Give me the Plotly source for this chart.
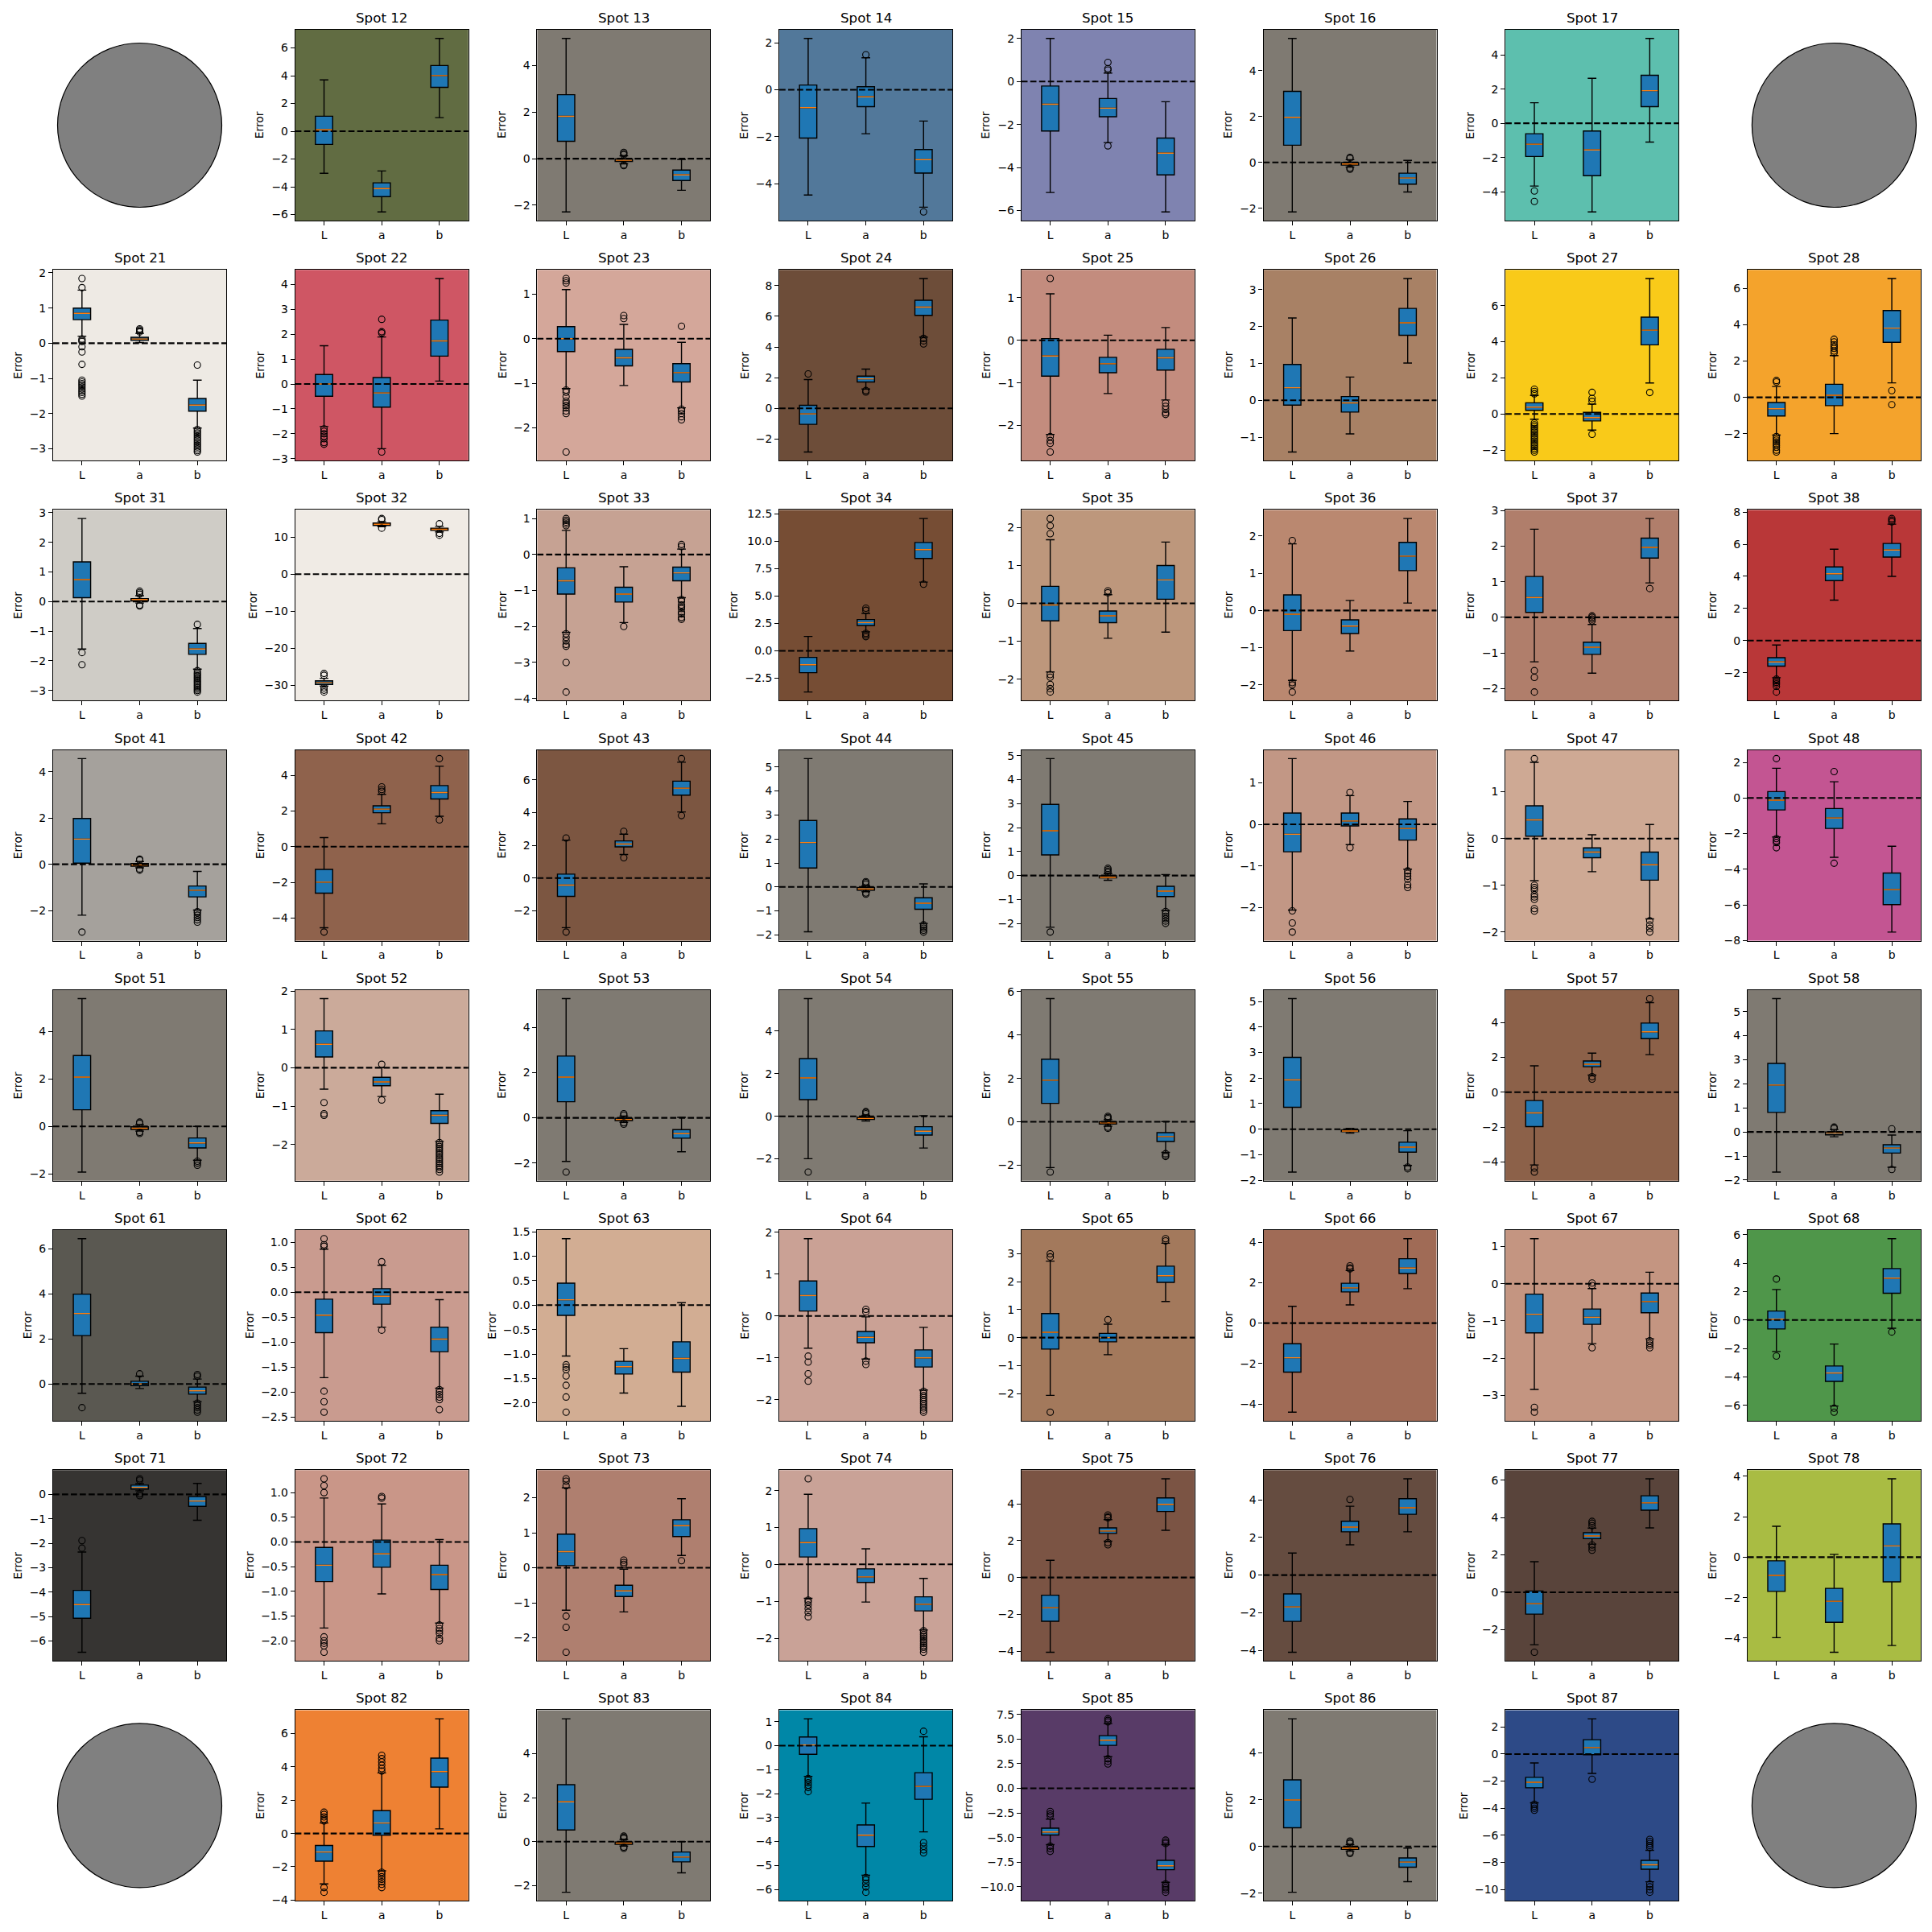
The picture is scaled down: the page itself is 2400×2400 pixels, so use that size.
import math
import plotly.graph_objects as go

# ---------------- data ----------------
CHANNELS = ["L", "a", "b"]
SPOT_IDS = [12, 13, 14, 15, 16, 17,
            21, 22, 23, 24, 25, 26, 27, 28,
            31, 32, 33, 34, 35, 36, 37, 38,
            41, 42, 43, 44, 45, 46, 47, 48,
            51, 52, 53, 54, 55, 56, 57, 58,
            61, 62, 63, 64, 65, 66, 67, 68,
            71, 72, 73, 74, 75, 76, 77, 78,
            82, 83, 84, 85, 86, 87]
EMPTY_CELLS = [11, 18, 81, 88]

BG_COLORS = ["#616C42", "#7F7A72", "#52789A", "#7F83B0", "#7F7A72", "#5DBFAE",
             "#EEEAE4", "#CF5664", "#D4A79A", "#6D4D39", "#C38C7E", "#A88165", "#F9CA19", "#F4A32C",
             "#CFCCC6", "#F0EBE5", "#C6A293", "#764D34", "#BD977C", "#BA8870", "#B07E6B", "#B93738",
             "#A5A19C", "#8F624C", "#7C5641", "#7F7A72", "#7F7A72", "#C29785", "#CEA994", "#C35592",
             "#7F7A72", "#CBAA9A", "#7F7A72", "#7F7A72", "#7F7A72", "#7F7A72", "#8C6149", "#7F7A72",
             "#5A5851", "#C99B8F", "#D2AD93", "#CAA195", "#A3795C", "#A06B56", "#C49581", "#4F964A",
             "#363432", "#C99688", "#AF7F6F", "#C9A297", "#7B5444", "#654C40", "#59443B", "#A9BC43",
             "#EE8133", "#7F7A72", "#0087A7", "#583B67", "#7F7A72", "#2D4A87"]

# [lower whisker, q1, median, q3, upper whisker]
L_BOX = [[-3.03, -0.95, 0.1, 1.08, 3.70], [-2.29, 0.75, 1.82, 2.75, 5.17], [-4.47, -2.05, -0.76, 0.2, 2.18],
         [-5.16, -2.3, -1.06, -0.21, 2.0], [-2.16, 0.75, 1.97, 3.1, 5.41], [-3.67, -1.94, -1.22, -0.61, 1.2],
         [0.2, 0.67, 0.85, 1.0, 1.51], [-1.71, -0.49, 0.0, 0.38, 1.54], [-1.12, -0.29, 0.0, 0.27, 1.1],
         [-2.84, -1.04, -0.36, 0.2, 1.88], [-2.21, -0.84, -0.37, 0.04, 1.09], [-1.4, -0.13, 0.34, 0.97, 2.23],
         [-0.29, 0.2, 0.38, 0.62, 1.03], [-2.07, -1.02, -0.62, -0.28, 0.6],
         [-1.6, 0.13, 0.74, 1.34, 2.8], [-30.2, -29.8, -29.3, -28.8, -28.1], [-2.16, -1.1, -0.73, -0.37, 0.67],
         [-3.75, -1.99, -1.26, -0.59, 1.32], [-1.81, -0.46, -0.04, 0.45, 1.68], [-1.88, -0.54, -0.1, 0.42, 1.79],
         [-1.25, 0.14, 0.56, 1.15, 2.48], [-2.31, -1.59, -1.33, -1.06, -0.27],
         [-2.2, 0.05, 1.09, 1.98, 4.57], [-4.54, -2.6, -1.99, -1.27, 0.51], [-3.03, -1.12, -0.43, 0.24, 2.32],
         [-1.87, 0.79, 1.85, 2.77, 5.35], [-2.16, 0.86, 1.87, 2.97, 4.88], [-2.06, -0.66, -0.24, 0.27, 1.58],
         [-0.9, 0.05, 0.4, 0.7, 1.63], [-2.19, -0.67, -0.12, 0.36, 1.67],
         [-1.93, 0.7, 2.08, 2.99, 5.39], [-0.56, 0.28, 0.61, 0.96, 1.8], [-1.93, 0.71, 1.8, 2.73, 5.27],
         [-1.99, 0.78, 1.8, 2.71, 5.52], [-2.11, 0.85, 1.92, 2.89, 5.68], [-1.68, 0.86, 1.93, 2.81, 5.11],
         [-4.17, -1.97, -1.19, -0.48, 1.51], [-1.67, 0.81, 1.95, 2.85, 5.54],
         [-0.41, 2.15, 3.13, 3.99, 6.45], [-1.71, -0.81, -0.46, -0.14, 0.86], [-1.04, -0.21, 0.11, 0.45, 1.36],
         [-0.77, 0.12, 0.49, 0.84, 1.85], [-2.06, -0.41, 0.19, 0.86, 2.73], [-4.4, -2.42, -1.71, -1.02, 0.83],
         [-2.84, -1.32, -0.82, -0.28, 1.21], [-2.21, -0.63, 0.06, 0.63, 2.14],
         [-6.46, -5.07, -4.51, -3.93, -2.36], [-1.74, -0.8, -0.47, -0.11, 0.89], [-1.21, 0.06, 0.46, 0.96, 2.28],
         [-0.92, 0.2, 0.59, 0.97, 1.9], [-4.06, -2.38, -1.64, -0.96, 0.94], [-4.1, -2.46, -1.69, -1.0, 1.17],
         [-2.81, -1.17, -0.61, 0.07, 1.64], [-3.98, -1.69, -0.9, -0.18, 1.53],
         [-3.03, -1.66, -1.11, -0.72, 0.63], [-2.3, 0.53, 1.81, 2.59, 5.58], [-1.28, -0.36, 0.03, 0.36, 1.12],
         [-5.72, -4.74, -4.43, -4.04, -3.12], [-1.96, 0.8, 1.99, 2.85, 5.46], [-3.6, -2.49, -2.08, -1.72, -0.66]]

A_BOX = [[-5.81, -4.71, -4.13, -3.72, -2.86], [-0.22, -0.12, -0.07, -0.01, 0.12], [-1.87, -0.72, -0.3, 0.13, 1.36],
         [-2.84, -1.64, -1.24, -0.79, 0.39], [-0.2, -0.12, -0.07, -0.01, 0.12], [-5.18, -3.06, -1.56, -0.45, 2.63],
         [0.02, 0.08, 0.12, 0.17, 0.28], [-2.6, -0.93, -0.36, 0.26, 1.89], [-1.05, -0.61, -0.43, -0.24, 0.32],
         [1.26, 1.72, 1.92, 2.1, 2.56], [-1.25, -0.76, -0.55, -0.4, 0.12], [-0.91, -0.32, -0.07, 0.1, 0.63],
         [-0.89, -0.38, -0.2, 0.09, 0.55], [-1.99, -0.45, 0.12, 0.72, 2.3],
         [-0.05, 0.02, 0.07, 0.1, 0.2], [12.8, 13.15, 13.47, 13.8, 14.2], [-1.89, -1.32, -1.1, -0.91, -0.34],
         [1.74, 2.32, 2.58, 2.86, 3.42], [-0.92, -0.51, -0.33, -0.2, 0.23], [-1.09, -0.62, -0.42, -0.25, 0.27],
         [-1.57, -1.04, -0.84, -0.7, -0.2], [2.52, 3.74, 4.16, 4.59, 5.69],
         [-0.15, -0.08, -0.03, 0.03, 0.12], [1.28, 1.9, 2.1, 2.29, 2.93], [1.44, 1.91, 2.08, 2.27, 2.68],
         [-0.2, -0.13, -0.08, -0.02, 0.05], [-0.2, -0.1, -0.07, -0.01, 0.08], [-0.49, -0.04, 0.08, 0.27, 0.69],
         [-0.71, -0.41, -0.29, -0.2, 0.08], [-3.33, -1.71, -1.12, -0.59, 0.91],
         [-0.2, -0.13, -0.08, -0.02, 0.08], [-0.75, -0.47, -0.37, -0.25, 0.0], [-0.2, -0.12, -0.07, -0.02, 0.08],
         [-0.22, -0.15, -0.1, -0.05, 0.05], [-0.2, -0.1, -0.05, 0.0, 0.1], [-0.15, -0.1, -0.07, -0.03, 0.03],
         [0.98, 1.46, 1.6, 1.79, 2.24], [-0.2, -0.12, -0.05, 0.0, 0.1],
         [-0.2, -0.07, 0.0, 0.12, 0.35], [-0.7, -0.24, -0.08, 0.07, 0.54], [-1.8, -1.41, -1.26, -1.15, -0.89],
         [-1.03, -0.64, -0.51, -0.37, -0.02], [-0.61, -0.15, 0.0, 0.15, 0.48], [0.9, 1.54, 1.74, 1.97, 2.6],
         [-1.61, -1.09, -0.9, -0.68, -0.13], [-6.04, -4.31, -3.72, -3.23, -1.69],
         [0.15, 0.22, 0.29, 0.38, 0.44], [-1.05, -0.51, -0.24, 0.04, 0.77], [-1.26, -0.82, -0.66, -0.5, -0.04],
         [-1.02, -0.49, -0.34, -0.12, 0.42], [1.98, 2.4, 2.53, 2.7, 3.15], [1.61, 2.3, 2.55, 2.86, 3.66],
         [2.58, 2.87, 3.02, 3.19, 3.44], [-4.7, -3.22, -2.18, -1.54, 0.14],
         [-2.24, -0.11, 0.63, 1.37, 3.64], [-0.2, -0.12, -0.07, -0.02, 0.1], [-5.41, -4.21, -3.74, -3.31, -2.4],
         [3.21, 4.37, 4.89, 5.35, 6.57], [-0.2, -0.12, -0.08, -0.03, 0.08], [-1.43, -0.05, 0.48, 1.06, 2.6]]

B_BOX = [[0.98, 3.16, 4.01, 4.73, 6.68], [-1.36, -0.94, -0.70, -0.49, -0.03], [-4.99, -3.54, -2.97, -2.54, -1.33],
         [-6.06, -4.34, -3.33, -2.63, -0.94], [-1.29, -0.95, -0.68, -0.47, 0.09], [-1.1, 0.97, 1.91, 2.81, 4.96],
         [-2.41, -1.93, -1.76, -1.57, -1.05], [0.12, 1.12, 1.73, 2.57, 4.24], [-1.55, -0.97, -0.76, -0.56, -0.08],
         [4.64, 6.06, 6.6, 7.04, 8.46], [-1.4, -0.7, -0.41, -0.21, 0.3], [1.01, 1.76, 2.1, 2.49, 3.3],
         [1.72, 3.83, 4.64, 5.36, 7.5], [0.8, 3.03, 3.81, 4.78, 6.54],
         [-2.28, -1.78, -1.6, -1.41, -0.91], [11.4, 11.8, 12.1, 12.4, 12.9], [-1.2, -0.73, -0.51, -0.35, 0.15],
         [6.27, 8.43, 9.24, 9.89, 12.07], [-0.76, 0.11, 0.62, 1.0, 1.62], [0.2, 1.07, 1.46, 1.83, 2.47],
         [0.97, 1.67, 1.97, 2.23, 2.78], [4.0, 5.2, 5.64, 6.05, 7.25],
         [-1.98, -1.41, -1.12, -0.94, -0.31], [1.7, 2.67, 3.03, 3.42, 4.5], [4.04, 5.07, 5.49, 5.92, 7.08],
         [-1.52, -0.93, -0.68, -0.45, 0.13], [-1.46, -0.88, -0.65, -0.45, 0.04], [-1.08, -0.38, -0.1, 0.13, 0.55],
         [-1.72, -0.89, -0.56, -0.29, 0.3], [-7.52, -5.98, -5.14, -4.21, -2.71],
         [-1.43, -0.91, -0.7, -0.49, 0.0], [-1.92, -1.45, -1.24, -1.12, -0.69], [-1.5, -0.9, -0.7, -0.52, 0.02],
         [-1.49, -0.88, -0.7, -0.49, 0.03], [-1.41, -0.91, -0.68, -0.5, 0.01], [-1.42, -0.9, -0.7, -0.51, -0.06],
         [2.15, 3.07, 3.46, 3.96, 5.13], [-1.47, -0.88, -0.67, -0.53, -0.13],
         [-0.78, -0.45, -0.3, -0.14, 0.22], [-1.92, -1.19, -0.94, -0.7, -0.15], [-2.07, -1.37, -1.09, -0.75, 0.05],
         [-1.77, -1.22, -1.0, -0.81, -0.27], [1.29, 1.97, 2.21, 2.55, 3.37], [1.7, 2.45, 2.72, 3.18, 4.17],
         [-1.48, -0.78, -0.48, -0.25, 0.31], [-0.58, 1.88, 2.94, 3.61, 5.71],
         [-1.06, -0.49, -0.27, -0.09, 0.45], [-1.64, -0.96, -0.66, -0.47, 0.05], [0.35, 0.89, 1.2, 1.37, 1.97],
         [-1.78, -1.26, -1.08, -0.88, -0.38], [2.57, 3.59, 3.98, 4.33, 5.37], [2.3, 3.23, 3.58, 4.06, 5.12],
         [3.45, 4.4, 4.79, 5.17, 6.08], [-4.37, -1.22, 0.56, 1.65, 3.88],
         [0.28, 2.79, 3.72, 4.53, 6.89], [-1.42, -0.92, -0.7, -0.47, 0.0], [-3.6, -2.24, -1.7, -1.13, 0.37],
         [-9.54, -8.26, -7.86, -7.31, -5.72], [-1.51, -0.89, -0.67, -0.49, -0.07], [-9.43, -8.5, -8.17, -7.85, -7.1]]

L_OUT = [[], [], [], [], [], [-3.96, -4.57],
         [1.84, 1.58, 0.12, 0.08, 0.05, -0.1, -0.25, -0.6, -1.05, -1.1, -1.15, -1.2, -1.25, -1.3, -1.35, -1.4, -1.45, -1.5],
         [-1.8, -1.9, -2.0, -2.1, -2.2, -2.35, -2.42],
         [1.35, 1.3, 1.25, -1.15, -1.2, -1.3, -1.4, -1.45, -1.5, -1.55, -1.62, -1.68, -2.54],
         [2.24], [1.45, -2.26, -2.35, -2.42, -2.62], [],
         [1.37, 1.25, 1.12, -0.5, -0.6, -0.7, -0.8, -0.9, -1.0, -1.1, -1.2, -1.3, -1.4, -1.5, -1.6, -1.7, -1.8, -1.9, -2.0, -2.1],
         [0.93, 0.85, -2.15, -2.25, -2.35, -2.45, -2.55, -2.65, -2.75, -2.9, -3.0],
         [-1.72, -2.13], [-26.8, -27.3, -30.7, -31.3, -31.8],
         [1.0, 0.95, 0.9, 0.85, 0.8, -2.2, -2.3, -2.4, -2.5, -2.55, -3.0, -3.82],
         [], [2.24, 2.05, 1.84, -1.88, -1.95, -2.14, -2.25, -2.34], [1.88, -1.94, -2.0, -2.19],
         [-1.5, -1.69, -2.1], [-2.4, -2.5, -2.6, -2.7, -2.85, -3.2],
         [-2.93], [-4.78], [2.45, -3.3], [], [-2.36], [-2.08, -2.37, -2.59],
         [1.71, -1.0, -1.05, -1.1, -1.2, -1.25, -1.3, -1.5, -1.55], [2.21, -2.28, -2.4, -2.5, -2.79],
         [], [-0.91, -1.2, -1.24], [-2.4], [-2.62], [-2.32], [], [-4.35, -4.58], [],
         [-1.05], [1.07, 0.95, 0.92, -1.98, -2.19, -2.4], [-1.22, -1.27, -1.32, -1.45, -1.64, -1.88, -2.19],
         [-0.96, -1.1, -1.38, -1.56], [2.99, 2.88, -2.66], [], [-3.32, -3.45], [2.88, -2.53],
         [-1.89, -2.2], [1.28, 1.14, 1.0, -1.92, -2.0, -2.05, -2.1, -2.23], [2.54, 2.47, 2.34, -1.38, -1.7, -2.41],
         [2.32, -0.97, -1.02, -1.1, -1.2, -1.3, -1.42], [], [], [-3.21], [],
         [1.28, 1.15, 1.0, 0.85, 0.75, -3.25, -3.53], [], [-1.37, -1.45, -1.55, -1.65, -1.75, -1.92],
         [-2.35, -2.6, -2.8, -5.87, -6.1, -6.4], [], [-3.7, -3.85, -4.0, -4.15]]

A_OUT = [[], [0.17, 0.22, 0.27, -0.27, -0.3], [1.49], [0.89, 0.6, 0.53, -2.99], [0.18, 0.22, -0.25, -0.3], [],
         [0.32, 0.35, 0.38, 0.41], [2.6, 2.1, 2.05, -2.73], [0.52, 0.45], [1.16, 1.06], [], [],
         [1.2, 0.86, 0.7, -1.12], [3.2, 3.05, 2.9, 2.8, 2.7, 2.55, 2.45],
         [0.25, 0.3, 0.35, -0.12, -0.15], [14.7, 15.0, 12.4], [-2.0], [3.9, 3.7, 1.6, 1.45, 1.3], [0.33, 0.28], [],
         [0.04, 0.0, -0.05, -0.1], [],
         [0.18, 0.22, -0.2, -0.25], [3.35, 3.2, 3.1], [2.85, 1.24], [0.12, 0.18, 0.22, -0.25, -0.3],
         [0.13, 0.18, 0.24, 0.3], [0.77, -0.56], [], [1.48, -3.66],
         [0.13, 0.18, -0.25, -0.3], [0.09, -0.84], [0.12, 0.18, -0.22, -0.28], [0.12, 0.18, 0.22],
         [0.15, 0.2, 0.25, -0.25, -0.3], [], [0.89, 0.75], [0.15, 0.2],
         [0.45], [0.61, -0.76], [], [0.16, 0.1, -1.08, -1.16], [0.64], [2.83, 2.73, 2.68], [0.02, -0.05, -1.72],
         [-6.19, -6.47],
         [0.64, 0.58, 0.02, -0.05], [0.92, 0.89], [0.22, 0.15, 0.1], [], [3.4, 3.3, 3.25, 1.9, 1.78], [4.02],
         [3.8, 3.7, 3.57, 2.53, 2.4, 2.25], [],
         [4.7, 4.5, 4.3, 4.1, 3.9, 3.75, -2.33, -2.45, -2.6, -2.75, -2.9, -3.05, -3.25],
         [0.15, 0.2, 0.25, -0.25, -0.3], [-5.5, -5.6, -5.75, -5.9, -6.12], [7.06, 6.9, 6.75, 3.0, 2.75, 2.48],
         [0.13, 0.18, 0.23, -0.25, -0.3], [-1.86]]

B_OUT = [[], [], [-5.19], [], [], [],
         [-0.62, -2.45, -2.5, -2.55, -2.6, -2.65, -2.7, -2.75, -2.8, -2.85, -2.9, -2.95, -3.0, -3.05, -3.09],
         [], [0.28, -1.58, -1.62, -1.68, -1.75, -1.82], [4.56, 4.4, 4.2], [-1.47, -1.55, -1.62, -1.7, -1.74], [],
         [1.19], [0.37, -0.4],
         [-0.77, -2.33, -2.4, -2.45, -2.5, -2.55, -2.6, -2.65, -2.7, -2.75, -2.8, -2.85, -2.9, -2.95, -3.0, -3.05],
         [13.6, 11.0, 10.5], [0.28, 0.22, -1.25, -1.3, -1.4, -1.45, -1.5, -1.6, -1.65, -1.75, -1.8], [6.08], [], [],
         [0.81], [7.6, 7.5, 7.4],
         [-2.05, -2.1, -2.2, -2.3, -2.4, -2.5], [4.93, 1.5], [7.3, 3.82], [-1.58, -1.65, -1.72, -1.8, -1.88],
         [-1.5, -1.6, -1.7, -1.8, -1.9, -2.0], [-1.12, -1.18, -1.25, -1.32, -1.45, -1.52], [-1.76, -1.85, -1.92, -2.0], [],
         [-1.47, -1.55, -1.64],
         [-1.95, -2.0, -2.05, -2.1, -2.15, -2.2, -2.25, -2.3, -2.35, -2.4, -2.45, -2.5, -2.55, -2.6, -2.65, -2.72],
         [], [], [-1.47, -1.55, -1.6], [-1.48, -1.55], [5.36], [0.13, -1.56],
         [0.35, 0.42, -0.85, -0.95, -1.05, -1.15, -1.25], [-1.95, -2.0, -2.05, -2.1, -2.15, -2.35], [],
         [-1.8, -1.85, -1.9, -1.95, -2.0, -2.05, -2.1, -2.15, -2.2, -2.25, -2.3], [3.53, 3.45], [],
         [-1.53, -1.6, -1.65, -1.72], [-0.84],
         [], [-1.68, -1.75, -1.8, -1.85, -1.95, -2.0], [0.2],
         [-1.8, -1.85, -1.9, -1.95, -2.0, -2.05, -2.1, -2.15, -2.2, -2.25, -2.3, -2.38], [], [], [], [],
         [], [], [0.6, -4.05, -4.2, -4.35, -4.48], [-5.26, -5.45, -5.6, -9.7, -9.9, -10.1, -10.3, -10.55], [],
         [-6.3, -6.45, -6.6, -6.75, -6.9, -9.6, -9.8, -10.0, -10.2]]

# ---------------- layout constants ----------------
FIG = 2400
COL_LEFT0, COL_PITCH = 66.0, 300.7
ROW_TOP0, ROW_PITCH = 37.0, 298.2
AX_W, AX_H = 215.0, 237.0
BOX_W = 0.3
FONT = "DejaVu Sans"
TICK_PX = 13.9
TITLE_PX = 16.7
MINUS = "\u2212"


def cell_rect(spot):
    r = spot // 10 - 1
    c = spot % 10 - 1
    left = COL_LEFT0 + COL_PITCH * c
    top = ROW_TOP0 + ROW_PITCH * r
    return left, top


def mpl_ticks(vmin, vmax, nbins=8):
    raw = (vmax - vmin) / nbins
    scale = 10 ** math.floor(math.log10(raw))
    step = None
    for s in [1, 2, 2.5, 5, 10]:
        if s * scale >= raw * (1 - 1e-12):
            step = s * scale
            break
    k0 = math.ceil(vmin / step - 1e-9)
    k1 = math.floor(vmax / step + 1e-9)
    vals = [k * step for k in range(k0, k1 + 1)]
    st = ("%.6f" % step).rstrip("0").rstrip(".")
    dec = len(st.split(".")[1]) if "." in st else 0
    texts = []
    for v in vals:
        t = f"{abs(v):.{dec}f}"
        if v < -1e-9:
            t = MINUS + t
        texts.append(t)
    return vals, texts


def text_width(s, px):
    w = 0.0
    for ch in s:
        if ch == MINUS:
            w += 0.838
        elif ch == ".":
            w += 0.318
        else:
            w += 0.636
    return w * px


fig = go.Figure()
shapes = []
annotations = []
layout_axes = {}
positions = [1, 2, 3]

for i, spot in enumerate(SPOT_IDS):
    n = i + 1
    xa = "x" if n == 1 else f"x{n}"
    ya = "y" if n == 1 else f"y{n}"
    xkey = "xaxis" if n == 1 else f"xaxis{n}"
    ykey = "yaxis" if n == 1 else f"yaxis{n}"
    left, top = cell_rect(spot)
    x0 = left / FIG
    x1 = (left + AX_W) / FIG
    y1 = 1 - top / FIG
    y0 = 1 - (top + AX_H) / FIG

    boxes = [L_BOX[i], A_BOX[i], B_BOX[i]]
    outs = [L_OUT[i], A_OUT[i], B_OUT[i]]

    fig.add_trace(go.Box(
        x=positions,
        lowerfence=[b[0] for b in boxes],
        q1=[b[1] for b in boxes],
        median=[b[2] for b in boxes],
        q3=[b[3] for b in boxes],
        upperfence=[b[4] for b in boxes],
        width=BOX_W, whiskerwidth=0.5,
        fillcolor="#1f77b4",
        line=dict(color="black", width=1.4),
        boxpoints=False, showlegend=False, hoverinfo="skip",
        xaxis=xa, yaxis=ya))

    mx, my = [], []
    for p, b in zip(positions, boxes):
        mx += [p - BOX_W / 2 + 0.01, p + BOX_W / 2 - 0.01, None]
        my += [b[2], b[2], None]
    fig.add_trace(go.Scatter(x=mx, y=my, mode="lines",
                             line=dict(color="#ff7f0e", width=1.4),
                             showlegend=False, hoverinfo="skip", xaxis=xa, yaxis=ya))

    ox, oy = [], []
    for p, o in zip(positions, outs):
        ox += [p] * len(o)
        oy += list(o)
    if ox:
        fig.add_trace(go.Scatter(x=ox, y=oy, mode="markers",
                                 marker=dict(symbol="circle-open", size=8, color="black",
                                             line=dict(width=1.1, color="black")),
                                 showlegend=False, hoverinfo="skip", xaxis=xa, yaxis=ya))

    allv = [v for b in boxes for v in b] + [v for o in outs for v in o] + [0.0]
    vmin, vmax = min(allv), max(allv)
    pad = 0.05 * (vmax - vmin)
    ymin, ymax = vmin - pad, vmax + pad
    tvals, ttext = mpl_ticks(ymin, ymax)

    layout_axes[xkey] = dict(domain=[x0, x1], anchor=ya, range=[0.5, 3.5],
                             tickmode="array", tickvals=positions, ticktext=CHANNELS,
                             ticks="outside", ticklen=5, tickwidth=1.1, tickcolor="black",
                             showgrid=False, zeroline=False, showline=True, mirror=True,
                             linecolor="black", linewidth=1.1, automargin=False,
                             tickfont=dict(family=FONT, size=TICK_PX, color="black"))
    layout_axes[ykey] = dict(domain=[y0, y1], anchor=xa, range=[ymin, ymax],
                             tickmode="array", tickvals=tvals, ticktext=ttext,
                             ticks="outside", ticklen=5, tickwidth=1.1, tickcolor="black",
                             showgrid=False, zeroline=False, showline=True, mirror=True,
                             linecolor="black", linewidth=1.1, automargin=False,
                             tickfont=dict(family=FONT, size=TICK_PX, color="black"))

    # background
    shapes.append(dict(type="rect", xref=f"{xa} domain", yref=f"{ya} domain",
                       x0=0, x1=1, y0=0, y1=1, fillcolor=BG_COLORS[i],
                       line=dict(width=0), layer="below"))
    # zero reference
    shapes.append(dict(type="line", xref=f"{xa} domain", yref=ya, x0=0, x1=1, y0=0, y1=0,
                       line=dict(color="black", width=2.1, dash="7.7px,3.3px"), layer="above"))

    annotations.append(dict(text=f"Spot {spot}", xref="paper", yref="paper",
                            x=(x0 + x1) / 2, y=y1, xanchor="center", yanchor="bottom",
                            yshift=3, showarrow=False,
                            font=dict(family=FONT, size=TITLE_PX, color="black")))
    maxw = max(text_width(t, TICK_PX) for t in ttext)
    off = 9.8 + maxw + 5.6 + 8.0
    annotations.append(dict(text="Error", xref="paper", yref="paper",
                            x=(left - off) / FIG, y=(y0 + y1) / 2, xanchor="center", yanchor="middle",
                            textangle=-90, showarrow=False,
                            font=dict(family=FONT, size=TICK_PX, color="black")))

for spot in EMPTY_CELLS:
    left, top = cell_rect(spot)
    cx, cy = left + AX_W / 2, top + AX_H / 2
    rad = 102.0
    shapes.append(dict(type="circle", xref="paper", yref="paper",
                       x0=(cx - rad) / FIG, x1=(cx + rad) / FIG,
                       y0=1 - (cy + rad) / FIG, y1=1 - (cy - rad) / FIG,
                       fillcolor="#808080", line=dict(color="black", width=1.2)))

fig.update_layout(width=FIG, height=FIG,
                  margin=dict(l=0, r=0, t=0, b=0, pad=0, autoexpand=False),
                  paper_bgcolor="white", plot_bgcolor="white",
                  showlegend=False, boxmode="overlay",
                  shapes=shapes, annotations=annotations, **layout_axes)

fig.write_html("out.html")
